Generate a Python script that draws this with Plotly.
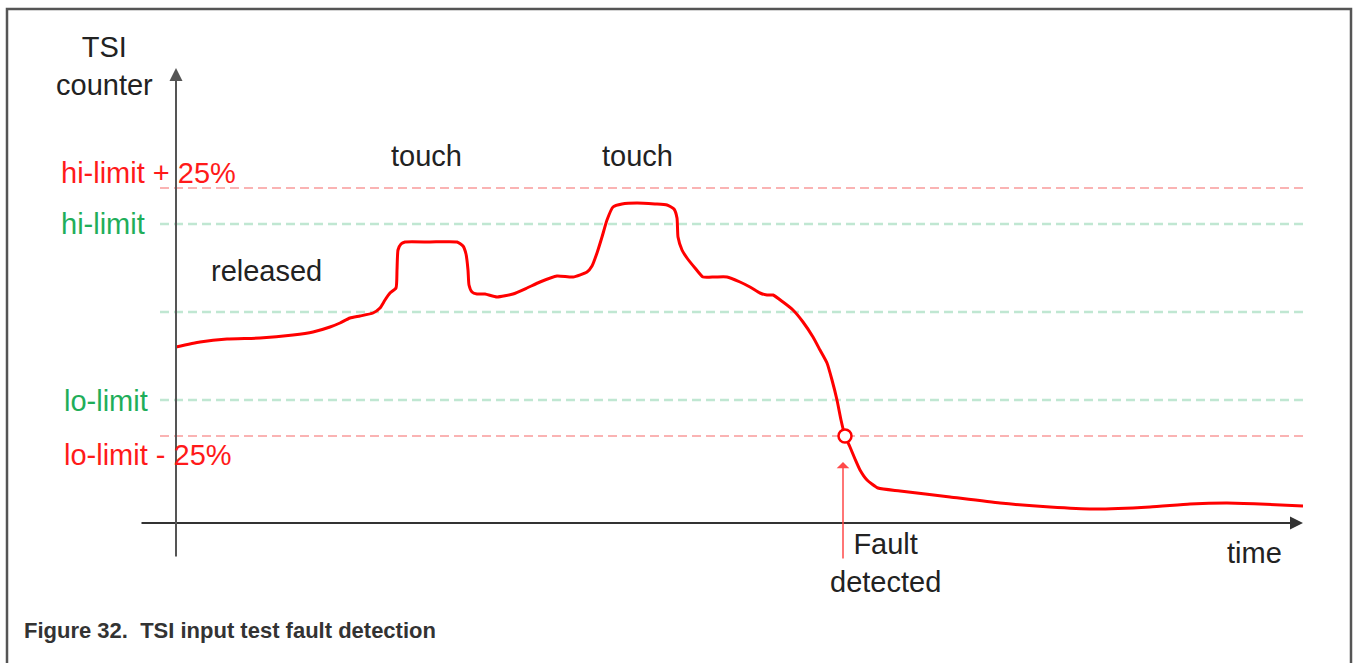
import plotly.graph_objects as go

# ---- data (time in arbitrary units, TSI counter in arbitrary units) ----
time = [0, 24, 51, 84, 117, 137, 154, 164, 174, 184,
        197, 204, 209, 214, 220, 221, 222, 225, 229, 254,
        281, 287, 290, 292, 293, 296, 301, 309, 321, 337,
        351, 364, 381, 397, 411, 416, 421, 426, 431, 437,
        446, 461, 479, 491, 498, 501, 502, 506, 511, 519,
        527, 539, 551, 564, 574, 584, 591, 597, 607, 617,
        627, 637, 644, 651, 656, 661, 665, 669, 674, 679,
        684, 691, 702, 724, 774, 824, 874, 917, 974, 1014,
        1051, 1084, 1127]
counter = [175, 180, 183, 184, 187, 190, 195, 199, 204, 206,
           209, 214, 222, 229, 234, 252, 272, 278, 280, 280,
           280, 276, 268, 252, 237, 230, 228, 228, 225, 228,
           234, 240, 246, 245, 250, 256, 269, 285, 302, 315,
           318, 319, 318, 317, 313, 304, 285, 272, 264, 254,
           245, 245, 245, 240, 235, 229, 227, 227, 220, 212,
           200, 185, 172, 159, 142, 122, 102, 86, 75, 63,
           52, 42, 34, 31, 25, 19, 15, 13, 15, 18,
           19, 18, 16]

level_names = ["hi-limit + 25%", "hi-limit", "", "lo-limit", "lo-limit - 25%"]
level_values = [334, 298, 210, 122, 86]
level_group = ["margin", "limit", "limit", "limit", "margin"]

fault_time = [669]
fault_counter = [86]

time_end = 1127
x_range = [-176, 1177]
y_range = [-141, 522]

RED = "#ff1a1a"
GREEN = "#1fae5a"
FONT = "Liberation Sans, Arial, sans-serif"

fig = go.Figure()

# dashed threshold lines
line_style = {
    "margin": dict(color="rgba(245,120,120,0.75)", width=1.5, dash="9px,5px"),
    "limit": dict(color="rgba(150,215,180,0.6)", width=2.5, dash="9px,5px"),
}
for v, g in zip(level_values, level_group):
    fig.add_shape(type="line", xref="x", yref="y", x0=-16, x1=time_end,
                  y0=v, y1=v, line=line_style[g], layer="below")

# the red signal curve
fig.add_trace(go.Scatter(x=time, y=counter, mode="lines",
                         line=dict(color="#ff0000", width=3, shape="spline", smoothing=0.5),
                         hoverinfo="skip", showlegend=False))

# fault point
fig.add_trace(go.Scatter(x=fault_time, y=fault_counter, mode="markers",
                         marker=dict(symbol="circle", size=13, color="white",
                                     line=dict(color="#ff0000", width=2.5)),
                         hoverinfo="skip", showlegend=False))

# axes with arrows
fig.add_annotation(x=time_end, y=-1, ax=-36, ay=-1, xref="x", yref="y",
                   axref="x", ayref="y", showarrow=True, arrowhead=2,
                   arrowsize=1.3, arrowwidth=2, arrowcolor="#333", text="")
fig.add_annotation(x=0, y=454, ax=0, ay=-36, xref="x", yref="y",
                   axref="x", ayref="y", showarrow=True, arrowhead=2,
                   arrowsize=1.3, arrowwidth=2, arrowcolor="#555", text="")

# fault arrow
fig.add_annotation(x=fault_time[0] - 2, y=60, ax=fault_time[0] - 2, ay=-38,
                   xref="x", yref="y", axref="x", ayref="y", showarrow=True,
                   arrowhead=1, arrowsize=1.4, arrowwidth=1.5,
                   arrowcolor="#ff4a4a", text="")

# level labels
label_pos = {"hi-limit + 25%": 349, "hi-limit": 298, "lo-limit": 121, "lo-limit - 25%": 67}
label_x = {"hi-limit + 25%": -117, "hi-limit": -117, "lo-limit": -114, "lo-limit - 25%": -114}
for name, g in zip(level_names, level_group):
    if not name:
        continue
    fig.add_annotation(x=label_x[name], y=label_pos[name], xref="x", yref="y",
                       text=name, showarrow=False, xanchor="left", yanchor="middle",
                       font=dict(family=FONT, size=29, color=RED if g == "margin" else GREEN))

# black text labels
txt = dict(family=FONT, size=29, color="#222")
fig.add_annotation(x=-72, y=456, xref="x", yref="y", text="TSI<br>counter",
                   showarrow=False, font=txt, align="center")
fig.add_annotation(x=90, y=251, xref="x", yref="y", text="released",
                   showarrow=False, font=txt)
fig.add_annotation(x=250, y=366, xref="x", yref="y", text="touch",
                   showarrow=False, font=txt)
fig.add_annotation(x=461, y=366, xref="x", yref="y", text="touch",
                   showarrow=False, font=txt)
fig.add_annotation(x=1078, y=-31, xref="x", yref="y", text="time",
                   showarrow=False, font=txt)
fig.add_annotation(x=709, y=-41, xref="x", yref="y", text="Fault<br>detected",
                   showarrow=False, font=txt, align="center")

# caption
fig.add_annotation(x=22 / 1353, y=1 - 630 / 663, xref="paper", yref="paper",
                   text="Figure 32.&nbsp; TSI input test fault detection",
                   showarrow=False, xanchor="left", yanchor="middle",
                   font=dict(family=FONT, size=22, color="#333", weight="bold"))

# outer border
fig.add_shape(type="rect", xref="paper", yref="paper",
              x0=7 / 1353, x1=1351 / 1353, y0=-0.05, y1=1 - 9 / 663,
              line=dict(color="#555", width=2.5), fillcolor="rgba(0,0,0,0)")

fig.update_layout(
    width=1353, height=663,
    margin=dict(l=0, r=0, t=0, b=0),
    paper_bgcolor="white", plot_bgcolor="white",
    xaxis=dict(range=x_range, visible=False, fixedrange=True),
    yaxis=dict(range=y_range, visible=False, fixedrange=True),
    showlegend=False,
)

fig.write_html("out.html", config={"displayModeBar": False},
               post_script="document.body.style.margin='0px';document.body.style.overflow='hidden';")
